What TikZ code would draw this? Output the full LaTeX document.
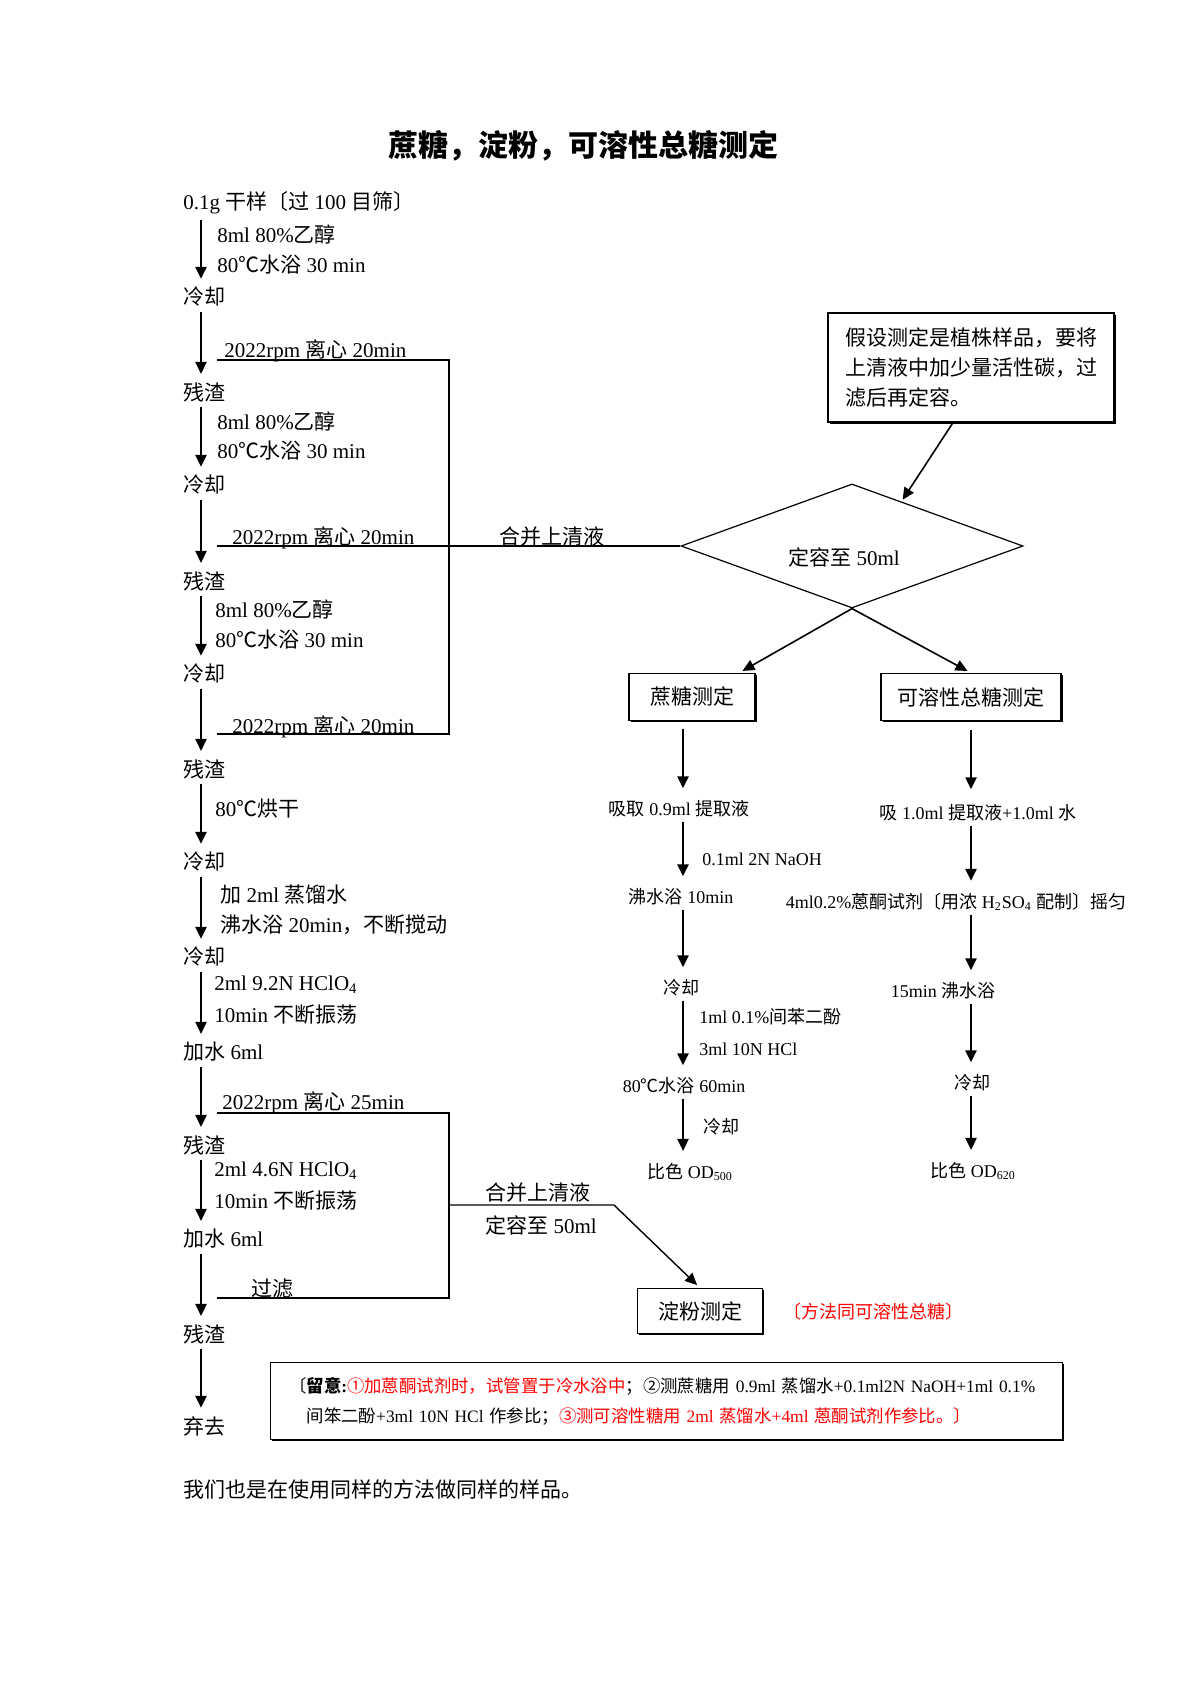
\documentclass[tikz,border=0pt]{standalone}
\usepackage{fontspec}
\setmainfont{Liberation Serif}
\newfontfamily\cjk{Noto Sans CJK SC}
\usetikzlibrary{arrows.meta,shapes.geometric,shadows}

\XeTeXinterchartokenstate=1
\newXeTeXintercharclass\cjkcls
\newcount\cjkc
\newcommand\cjkrange[2]{\cjkc=#1\relax\loop\XeTeXcharclass\cjkc=\cjkcls\relax\ifnum\cjkc<#2\relax\advance\cjkc by 1\repeat}
\cjkrange{"2103}{"2103}
\cjkrange{"2460}{"2473}
\cjkrange{"3000}{"303F}
\cjkrange{"4E00}{"9FFF}
\cjkrange{"FF00}{"FFEF}
\XeTeXinterchartoks 0 \cjkcls = {\begingroup\cjk}
\XeTeXinterchartoks 4095 \cjkcls = {\begingroup\cjk}
\XeTeXinterchartoks \cjkcls 0 = {\endgroup}
\XeTeXinterchartoks \cjkcls 4095 = {\endgroup}

\begin{document}
\begin{tikzpicture}[x=0.5pt, y=-0.5pt, >={Triangle[length=6pt,width=5.5pt]},
  stage/.style={anchor=west, inner sep=1.5pt, font=\fontsize{10.5}{13}\selectfont},
  side/.style={anchor=west, inner sep=1pt, font=\fontsize{10.5}{13}\selectfont},
  rt/.style={inner sep=1.5pt, font=\fontsize{9}{11}\selectfont},
  flow/.style={->, line width=1.2pt, shorten <=1pt, shorten >=2.5pt},
  col/.style={->, line width=1.2pt, shorten <=0.5pt, shorten >=4.5pt},
  link/.style={->, line width=0.8pt, shorten >=2pt},
  merge/.style={line width=0.7pt},
  box/.style={draw, line width=0.6pt, fill=white, inner sep=0pt,
    font=\fontsize{10.5}{13}\selectfont,
    drop shadow={shadow xshift=0.9pt, shadow yshift=-0.9pt, fill=black, opacity=1}}]

  \useasboundingbox (0,0) rectangle (1190,1684);

  \node[font=\fontsize{15}{18}\selectfont\bfseries] (title) at (583,146) {蔗糖，淀粉，可溶性总糖测定};

  \coordinate (lx) at (201,0);
  \node[stage] (s0) at (180,203) {0.1g 干样〔过 100 目筛〕};
  \node[stage] (s1) at (180,297) {冷却};
  \node[stage] (s2) at (180,392) {残渣};
  \node[stage] (s3) at (180,485) {冷却};
  \node[stage] (s4) at (180,581) {残渣};
  \node[stage] (s5) at (180,674) {冷却};
  \node[stage] (s6) at (180,769) {残渣};
  \node[stage] (s7) at (180,862) {冷却};
  \node[stage] (s8) at (180,957) {冷却};
  \node[stage] (s9) at (180,1052) {加水 6ml};
  \node[stage] (s10) at (180,1145) {残渣};
  \node[stage] (s11) at (180,1239) {加水 6ml};
  \node[stage] (s12) at (180,1334) {残渣};
  \node[stage] (s13) at (180,1426) {弃去};

  \draw[flow] (s0.south -| lx) -- (s1.north -| lx);
  \draw[flow] (s1.south -| lx) -- (s2.north -| lx);
  \draw[flow] (s2.south -| lx) -- (s3.north -| lx);
  \draw[flow] (s3.south -| lx) -- (s4.north -| lx);
  \draw[flow] (s4.south -| lx) -- (s5.north -| lx);
  \draw[flow] (s5.south -| lx) -- (s6.north -| lx);
  \draw[flow] (s6.south -| lx) -- (s7.north -| lx);
  \draw[flow] (s7.south -| lx) -- (s8.north -| lx);
  \draw[flow] (s8.south -| lx) -- (s9.north -| lx);
  \draw[flow] (s9.south -| lx) -- (s10.north -| lx);
  \draw[flow] (s10.south -| lx) -- (s11.north -| lx);
  \draw[flow] (s11.south -| lx) -- (s12.north -| lx);
  \draw[flow] (s12.south -| lx) -- (s13.north -| lx);

  \node[side] (e1) at (215,234) {8ml 80\%乙醇};
  \node[side] (w1) at (215,265) {80℃水浴 30 min};
  \node[side, anchor=base west] (r1) at (222,358) {2022rpm 离心 20min};
  \node[side] (e2) at (215,421) {8ml 80\%乙醇};
  \node[side] (w2) at (215,451) {80℃水浴 30 min};
  \node[side, anchor=base west] (r2) at (230,544) {2022rpm 离心 20min};
  \node[side, anchor=base] (hb1) at (552,544) {合并上清液};
  \node[side] (e3) at (213,609) {8ml 80\%乙醇};
  \node[side] (w3) at (213,640) {80℃水浴 30 min};
  \node[side, anchor=base west] (r3) at (230,733) {2022rpm 离心 20min};
  \node[side] (dry) at (213,809) {80℃烘干};
  \node[side] (h1) at (218,895) {加 2ml 蒸馏水};
  \node[side] (h2) at (218,925) {沸水浴 20min，不断搅动};
  \node[side] (p1) at (212,985) {2ml 9.2N HClO\textsubscript{4}};
  \node[side] (p2) at (212,1015) {10min 不断振荡};
  \node[side, anchor=base west] (r4) at (220,1109) {2022rpm 离心 25min};
  \node[side] (q1) at (212,1171) {2ml 4.6N HClO\textsubscript{4}};
  \node[side] (q2) at (212,1201) {10min 不断振荡};
  \node[side, anchor=base west] (filt) at (249,1296) {过滤};
  \node[side] (hb2) at (483,1193) {合并上清液};
  \node[side] (hb3) at (483,1225) {定容至 50ml};

  \node[draw, diamond, line width=0.6pt, minimum width=171pt, minimum height=62pt, inner sep=0pt] (dia) at (852,546) {};
  \node[font=\fontsize{10.5}{13}\selectfont] (dtx) at (844,557) {定容至 50ml};

  \coordinate (a1) at (217,360);
  \coordinate (m1) at (449,360);
  \coordinate (m3) at (449,734);
  \coordinate (a3) at (217,734);
  \coordinate (a2) at (217,546);
  \draw[merge] (a1) -- (m1) -- (m3) -- (a3);
  \draw[merge] (a2) -- (dia.west);

  \node[box, align=left, text width=126pt, inner xsep=8.5pt, minimum height=54.5pt,
    font=\fontsize{10.5}{15}\selectfont] (hint) at (971,367.5)
    {假设测定是植株样品，要将\\上清液中加少量活性碳，过\\滤后再定容。};
  \draw[link, shorten >=1pt] ([xshift=-9pt]hint.south) -- (dia.42);

  \node[box, minimum width=63pt, minimum height=23.5pt] (suc) at (692,697) {蔗糖测定};
  \node[box, minimum width=90pt, minimum height=23.5pt] (sol) at (971,697) {可溶性总糖测定};
  \draw[link] (dia.south) -- ([xshift=23.5pt]suc.north);
  \draw[link] (dia.south) -- (sol.north);

  \coordinate (cx) at (683,0);
  \node[rt] (sa1) at (679,809) {吸取 0.9ml 提取液};
  \node[rt] (sa2) at (681,897) {沸水浴 10min};
  \node[rt] (sa3) at (681,988) {冷却};
  \node[rt] (sa4) at (684,1086) {80℃水浴 60min};
  \node[rt] (sa5) at (690,1172) {比色 OD\textsubscript{500}};
  \node[rt, anchor=west] (na) at (699,859) {0.1ml 2N NaOH};
  \node[rt, anchor=west] (ra) at (696,1017) {1ml 0.1\%间苯二酚};
  \node[rt, anchor=west] (ha) at (696,1049) {3ml 10N HCl};
  \node[rt, anchor=west] (ca) at (700,1127) {冷却};
  \draw[col, shorten <=4pt] (suc.south -| cx) -- (sa1.north -| cx);
  \draw[col] (sa1.south -| cx) -- (sa2.north -| cx);
  \draw[col] (sa2.south -| cx) -- (sa3.north -| cx);
  \draw[col] (sa3.south -| cx) -- (sa4.north -| cx);
  \draw[col] (sa4.south -| cx) -- (sa5.north -| cx);

  \coordinate (dx) at (971,0);
  \node[rt] (sb1) at (978,813) {吸 1.0ml 提取液+1.0ml 水};
  \node[rt] (sb2) at (956,902) {4ml0.2\%蒽酮试剂〔用浓 H\textsubscript{2}SO\textsubscript{4} 配制〕摇匀};
  \node[rt] (sb3) at (943,991) {15min 沸水浴};
  \node[rt] (sb4) at (972,1083) {冷却};
  \node[rt] (sb5) at (973,1171) {比色 OD\textsubscript{620}};
  \draw[col, shorten <=4.5pt, shorten >=6pt] (sol.south -| dx) -- (sb1.north -| dx);
  \draw[col] (sb1.south -| dx) -- (sb2.north -| dx);
  \draw[col] (sb2.south -| dx) -- (sb3.north -| dx);
  \draw[col] (sb3.south -| dx) -- (sb4.north -| dx);
  \draw[col] (sb4.south -| dx) -- (sb5.north -| dx);

  \node[box, minimum width=62.5pt, minimum height=22.5pt] (starch) at (700,1311) {淀粉测定};
  \node[rt, anchor=west, text=red] (same) at (780,1312) {〔方法同可溶性总糖〕};

  \coordinate (b1) at (217,1113);
  \coordinate (n1) at (449,1113);
  \coordinate (n2) at (449,1298);
  \coordinate (b2) at (217,1298);
  \coordinate (nm) at (449,1205);
  \coordinate (nk) at (614,1205);
  \draw[merge] (b1) -- (n1) -- (n2) -- (b2);
  \draw[merge, ->, shorten >=2pt] (nm) -- (nk) -- (starch.north);

  \node[box, anchor=north west, align=left, text width=360pt, inner xsep=18pt, minimum height=38.5pt,
    font=\fontsize{8.7}{15}\selectfont] (note) at (270,1362)
    {\llap{〔}\textbf{留意:}\textcolor{red}{①加蒽酮试剂时，试管置于冷水浴中}；②测蔗糖用~0.9ml~蒸馏水+0.1ml2N~NaOH+1ml~0.1\%\\
     间笨二酚+3ml~10N~HCl~作参比；\textcolor{red}{③测可溶性糖用~2ml~蒸馏水+4ml~蒽酮试剂作参比。〕}};

  \node[stage] (tail) at (180,1489) {我们也是在使用同样的方法做同样的样品。};

\end{tikzpicture}
\end{document}
